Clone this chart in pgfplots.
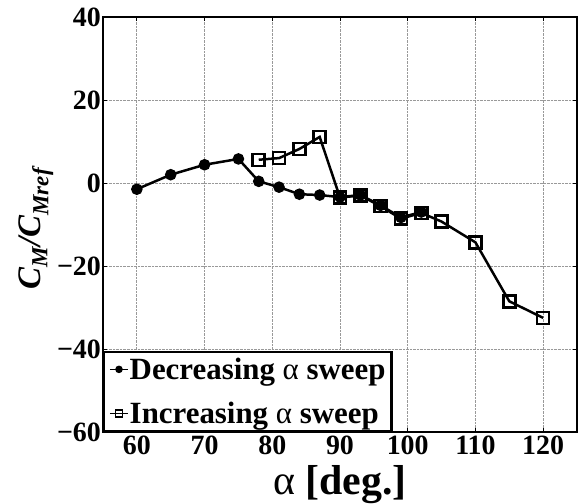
\documentclass[border=0pt]{standalone}
\usepackage{fontspec}
\setmainfont{Liberation Serif}
\usepackage{pgfplots}
\pgfplotsset{compat=1.18}
\begin{document}
\begin{tikzpicture}
\begin{axis}[name=ax, scale only axis, width=474bp, height=415bp,
  xmin=55, xmax=125, ymin=-60, ymax=40,
  xtick={60,70,...,120}, ytick={-60,-40,...,40},
  xticklabels={60,70,80,90,100,110,120},
  yticklabels={−60,−40,−20,0,20,40},
  tick label style={font=\fontsize{28}{28}\selectfont\bfseries},
  xticklabel style={inner sep=2bp, yshift=-2bp},
  yticklabel style={inner sep=2bp},
  grid=major, major grid style={densely dotted, gray!80, line width=0.9pt},
  axis line style={line width=2.5pt},
  tick style={black, line width=1pt}, major tick length=4bp,
  xlabel={{\mdseries α} [deg.]},
  xlabel style={font=\fontsize{42}{42}\selectfont\bfseries, at={(axis description cs:0.5,0)}, anchor=base, yshift=-62bp},
  ylabel={C\textsubscript{M}/C\textsubscript{Mref}},
  ylabel style={font=\fontsize{33}{33}\selectfont\bfseries\itshape, at={(axis description cs:-0.141,0.49)}, anchor=center},
  legend style={at={(0,0)}, anchor=south west, draw=black, line width=2.5pt, fill=white,
    font=\fontsize{31}{33}\selectfont\bfseries, inner sep=5bp, row sep=19bp,
    nodes={inner sep=1bp}},
  legend cell align=left,
  legend image code/.code={\draw[mark repeat=2,mark phase=2,#1] plot coordinates {(0bp,0bp) (9bp,0bp) (18bp,0bp)};},
]
\addplot[black, line width=2.5pt, mark=*, mark size=4.5bp, legend image post style={mark size=3bp, line width=1.5pt}] coordinates {
(60,-1.5) (65,2.0) (70,4.4) (75,5.8) (78,0.4) (81,-1.0) (84,-2.7) (87,-2.9) (90,-3.4) (93,-2.9) (96,-5.4) (99,-8.3) (102,-7.0)
};
\addlegendentry{Decreasing {\mdseries α} sweep}
\addplot[black, line width=2.5pt, mark=square, mark size=6bp, mark options={line width=2.5pt}, legend image post style={mark size=3.5bp, line width=1.5pt, mark options={line width=1.5pt}}] coordinates {
(78,5.6) (81,6.0) (84,8.2) (87,11.1) (90,-3.5) (93,-3.0) (96,-5.6) (99,-8.6) (102,-7.2) (105,-9.3) (110,-14.3) (115,-28.5) (120,-32.5)
};
\addlegendentry{Increasing {\mdseries α} sweep}
\end{axis}
\pgfresetboundingbox
\path (ax.south west) ++(-103bp,-72bp) rectangle ++(578bp,504bp);
\end{tikzpicture}
\end{document}
